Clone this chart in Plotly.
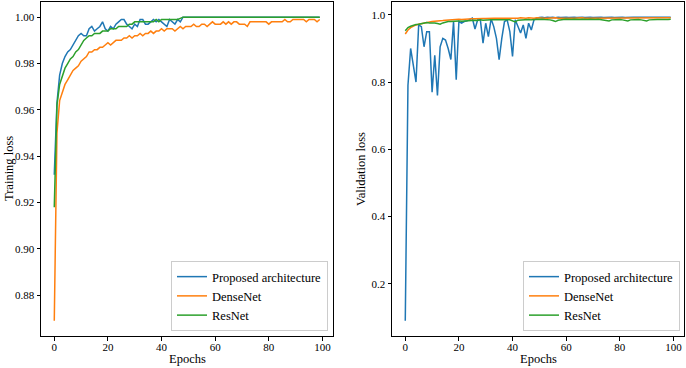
import plotly.graph_objects as go

epochs = list(range(100))

train_proposed = [
    0.932, 0.963, 0.975, 0.980, 0.983, 0.985, 0.986, 0.988, 0.990, 0.992,
    0.993, 0.992, 0.992, 0.995, 0.996, 0.994, 0.995, 0.996, 0.998, 0.995,
    0.994, 0.996, 0.995, 0.997, 0.998, 0.999, 0.999, 0.997, 0.996, 0.995,
    0.997, 0.996, 0.999, 0.999, 0.997, 0.997, 0.998, 0.999, 0.998, 0.999,
    0.998, 0.997, 0.996, 0.999, 0.998, 0.997, 0.999, 0.998, 1.000, 1.000,
] + [1.000] * 50

train_densenet = [
    0.869, 0.950, 0.964, 0.968, 0.971, 0.973, 0.975, 0.977, 0.978, 0.979,
    0.981, 0.982, 0.983, 0.985, 0.985, 0.986, 0.986, 0.987, 0.987, 0.988,
    0.989, 0.988, 0.989, 0.990, 0.990, 0.990, 0.991, 0.991, 0.992, 0.991,
    0.992, 0.992, 0.993, 0.992, 0.993, 0.993, 0.994, 0.993, 0.994, 0.994,
    0.995, 0.994, 0.995, 0.995, 0.995, 0.994, 0.995, 0.996, 0.995, 0.996,
    0.996, 0.996, 0.997, 0.996, 0.996, 0.997, 0.997, 0.996, 0.997, 0.998,
    0.997, 0.997, 0.997, 0.998, 0.997, 0.998, 0.997, 0.998, 0.998, 0.997,
    0.997, 0.997, 0.996, 0.998, 0.998, 0.998, 0.998, 0.998, 0.998, 0.998,
    0.997, 0.998, 0.998, 0.998, 0.998, 0.998, 0.999, 0.998, 0.998, 0.999,
    0.999, 0.999, 0.999, 0.999, 0.998, 0.999, 0.999, 0.999, 0.998, 0.999,
]

train_resnet = [
    0.918, 0.962, 0.971, 0.975, 0.978, 0.980, 0.982, 0.983, 0.985, 0.986,
    0.988, 0.990, 0.991, 0.992, 0.992, 0.993, 0.993, 0.993, 0.994, 0.994,
    0.994, 0.995, 0.995, 0.995, 0.996, 0.996, 0.996, 0.996, 0.997, 0.997,
    0.998, 0.998, 0.998, 0.998, 0.998, 0.998, 0.998, 0.998, 0.999, 0.998,
    0.999, 0.999, 0.999, 0.999, 0.999, 0.999, 0.999, 0.9995, 1.000, 1.000,
] + [1.000] * 50

val_proposed = [
    0.09, 0.79, 0.90, 0.85, 0.80, 0.97, 0.965, 0.905, 0.95, 0.95,
    0.77, 0.88, 0.76, 0.905, 0.93, 0.925, 0.90, 0.867, 0.98, 0.807,
    0.98, 0.975, 0.98, 0.982, 0.985, 0.99, 0.958, 0.985, 0.985, 0.916,
    0.975, 0.935, 0.988, 0.965, 0.93, 0.867, 0.93, 0.98, 0.985, 0.95,
    0.876, 0.985, 0.966, 0.946, 0.97, 0.93, 0.975, 0.955, 0.985, 0.99,
    0.992, 0.993, 0.991, 0.993, 0.992, 0.993, 0.991, 0.993, 0.992, 0.993,
    0.993, 0.992, 0.993, 0.993, 0.992, 0.993, 0.993, 0.992, 0.993, 0.993,
    0.992, 0.993, 0.993, 0.993, 0.992, 0.993, 0.993, 0.993, 0.992, 0.993,
    0.993, 0.993, 0.992, 0.993, 0.993, 0.993, 0.993, 0.992, 0.993, 0.993,
    0.993, 0.993, 0.993, 0.992, 0.993, 0.993, 0.993, 0.993, 0.993, 0.993,
]

val_densenet = [
    0.943, 0.955, 0.962, 0.967, 0.970, 0.972, 0.974, 0.975, 0.977, 0.978,
    0.980, 0.981, 0.981, 0.982, 0.983, 0.984, 0.985, 0.985, 0.985, 0.986,
    0.987, 0.986, 0.987, 0.988, 0.987, 0.988, 0.988, 0.989, 0.988, 0.989,
    0.989, 0.990, 0.989, 0.990, 0.990, 0.989, 0.990, 0.990, 0.991, 0.990,
    0.990, 0.989, 0.990, 0.991, 0.990, 0.990, 0.991, 0.990, 0.990, 0.991,
    0.990, 0.991, 0.990, 0.990, 0.991, 0.990, 0.991, 0.990, 0.991, 0.990,
    0.990, 0.991, 0.990, 0.990, 0.991, 0.990, 0.991, 0.990, 0.990, 0.991,
    0.990, 0.991, 0.990, 0.991, 0.990, 0.990, 0.991, 0.990, 0.991, 0.990,
    0.990, 0.991, 0.990, 0.990, 0.991, 0.990, 0.991, 0.990, 0.990, 0.991,
    0.990, 0.991, 0.990, 0.990, 0.991, 0.990, 0.991, 0.990, 0.990, 0.991,
]

val_resnet = [
    0.953, 0.962, 0.966, 0.969, 0.971, 0.972, 0.974, 0.975, 0.977, 0.976,
    0.977, 0.976, 0.974, 0.972, 0.976, 0.979, 0.980, 0.980, 0.981, 0.981,
    0.982, 0.981, 0.982, 0.982, 0.983, 0.984, 0.984, 0.983, 0.985, 0.984,
    0.985, 0.984, 0.985, 0.985, 0.984, 0.985, 0.985, 0.986, 0.985, 0.985,
    0.983, 0.979, 0.984, 0.985, 0.984, 0.985, 0.986, 0.985, 0.986, 0.986,
    0.986, 0.987, 0.986, 0.986, 0.985, 0.983, 0.980, 0.984, 0.986, 0.986,
    0.987, 0.986, 0.986, 0.987, 0.986, 0.986, 0.987, 0.986, 0.986, 0.987,
    0.986, 0.986, 0.987, 0.986, 0.985, 0.984, 0.982, 0.985, 0.986, 0.987,
    0.986, 0.985, 0.984, 0.982, 0.985, 0.986, 0.987, 0.986, 0.985, 0.984,
    0.982, 0.985, 0.986, 0.987, 0.986, 0.986, 0.987, 0.986, 0.986, 0.987,
]

series_names = ["Proposed architecture", "DenseNet", "ResNet"]
colors = ["#1f77b4", "#ff7f0e", "#2ca02c"]
x_ticks = [0, 20, 40, 60, 80, 100]
train_ticks = [0.88, 0.90, 0.92, 0.94, 0.96, 0.98, 1.00]
val_ticks = [0.2, 0.4, 0.6, 0.8, 1.0]

FONT = "Liberation Serif, serif"
FS = 12.5
TFS = 11
W, H = 686, 368

fig = go.Figure()
for name, ys, c in zip(series_names, [train_proposed, train_densenet, train_resnet], colors):
    fig.add_trace(go.Scatter(x=epochs, y=ys, mode="lines", name=name,
                             line=dict(color=c, width=1.5), xaxis="x", yaxis="y",
                             legend="legend"))
for name, ys, c in zip(series_names, [val_proposed, val_densenet, val_resnet], colors):
    fig.add_trace(go.Scatter(x=epochs, y=ys, mode="lines", name=name,
                             line=dict(color=c, width=1.5), xaxis="x2", yaxis="y2",
                             legend="legend2"))


def auto_range(arrs):
    lo = min(min(a) for a in arrs)
    hi = max(max(a) for a in arrs)
    m = (hi - lo) * 0.05
    return [lo - m, hi + m]


xr = [-4.95, 103.95]
ydom = [1 - 336 / H, 1 - 2 / H]

axis_common = dict(showline=True, linecolor="black", linewidth=1, mirror=True,
                   ticks="outside", ticklen=3.5, tickwidth=0.8, tickcolor="black",
                   showgrid=False, zeroline=False, automargin=False,
                   tickfont=dict(family=FONT, size=TFS, color="black"))

fig.update_layout(
    width=W, height=H,
    margin=dict(l=0, r=0, t=0, b=0),
    paper_bgcolor="white", plot_bgcolor="white",
    font=dict(family=FONT, size=FS, color="black"),
    xaxis=dict(domain=[41 / W, 333 / W], range=xr, tickvals=x_ticks, anchor="y",
               ticklabelstandoff=-3, **axis_common),
    yaxis=dict(domain=ydom, range=auto_range([train_proposed, train_densenet, train_resnet]),
               tickvals=train_ticks, tickformat=".2f", anchor="x",
               **axis_common),
    xaxis2=dict(domain=[392 / W, 684 / W], range=xr, tickvals=x_ticks, anchor="y2",
                ticklabelstandoff=-3, **axis_common),
    yaxis2=dict(domain=ydom, range=auto_range([val_proposed, val_densenet, val_resnet]),
                tickvals=val_ticks, tickformat=".1f", anchor="x2",
                **axis_common),
    legend=dict(x=328 / W, y=1 - 331 / H, xanchor="right", yanchor="bottom",
                bgcolor="rgba(255,255,255,0.8)", bordercolor="#cccccc", borderwidth=1,
                font=dict(family=FONT, size=FS), tracegroupgap=0, itemwidth=30),
    legend2=dict(x=680 / W, y=1 - 331 / H, xanchor="right", yanchor="bottom",
                 bgcolor="rgba(255,255,255,0.8)", bordercolor="#cccccc", borderwidth=1,
                 font=dict(family=FONT, size=FS), tracegroupgap=0, itemwidth=30),
)

title_font = dict(family=FONT, size=FS, color="black")
fig.add_annotation(text="Epochs", xref="paper", yref="paper", x=187 / W, y=1 - 359 / H,
                   xanchor="center", yanchor="middle", showarrow=False, font=title_font)
fig.add_annotation(text="Epochs", xref="paper", yref="paper", x=538 / W, y=1 - 359 / H,
                   xanchor="center", yanchor="middle", showarrow=False, font=title_font)
fig.add_annotation(text="Training loss", xref="paper", yref="paper", x=9 / W, y=1 - 169 / H,
                   xanchor="center", yanchor="middle", showarrow=False, textangle=-90,
                   font=title_font)
fig.add_annotation(text="Validation loss", xref="paper", yref="paper", x=361 / W, y=1 - 169 / H,
                   xanchor="center", yanchor="middle", showarrow=False, textangle=-90,
                   font=title_font)

fig.write_html(
    "out.html",
    config={"displayModeBar": False},
    post_script="document.body.style.margin='0';document.body.style.padding='0';",
)
